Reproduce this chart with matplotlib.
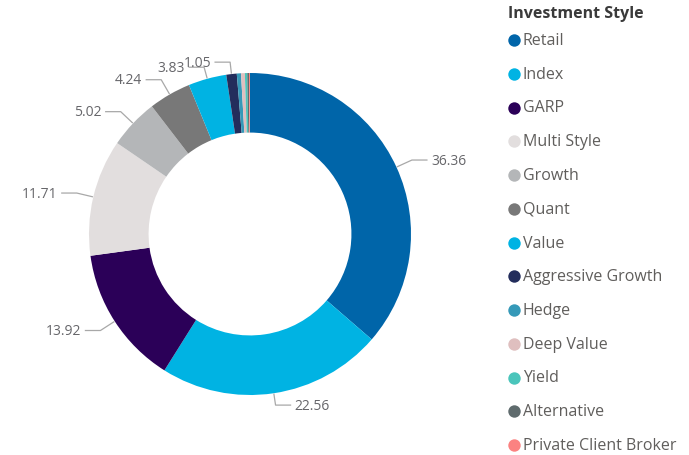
import matplotlib
matplotlib.use('Agg')
import matplotlib.pyplot as plt
import numpy as np

# Data
styles = ['Retail', 'Index', 'GARP', 'Multi Style', 'Growth', 'Quant', 'Value',
          'Aggressive Growth', 'Hedge', 'Deep Value', 'Yield', 'Alternative',
          'Private Client Broker']
shares = [36.36, 22.56, 13.92, 11.71, 5.02, 4.24, 3.83, 1.05, 0.42, 0.38, 0.24, 0.17, 0.10]
colors = ['#0065A9', '#00B3E3', '#2B0058', '#E2DEDE', '#B4B6B8', '#787878', '#00B3E3',
          '#232D5C', '#3599B8', '#DFBFBF', '#4AC5BB', '#5F6B6D', '#FB8281']
legendTitle = 'Investment Style'

W, H = 689, 456
fig = plt.figure(figsize=(W / 100, H / 100), dpi=100)
ax = fig.add_axes([0, 0, 1, 1])
ax.set_aspect('equal')

cx, cy = 250, H - 235
R = 161
plt.rcParams['font.family'] = ['Open Sans', 'DejaVu Sans']

wedges, _ = ax.pie(shares, colors=colors, startangle=90, counterclock=False,
                   radius=R, center=(cx, cy), frame=True,
                   wedgeprops=dict(width=R * 0.37, linewidth=0))
ax.set_xlim(0, W)
ax.set_ylim(0, H)
ax.axis('off')

# Data labels with leader lines
labelColor = '#66666A'
lineColor = '#A8A8A8'
for w, v in zip(wedges, shares):
    if v < 1:
        continue
    ang = np.deg2rad((w.theta1 + w.theta2) / 2)
    dx, dy = np.cos(ang), np.sin(ang)
    p1 = (cx + (R + 1) * dx, cy + (R + 1) * dy)
    rE = R + 17 if abs(dy) < 0.95 else R + 12
    p2 = (cx + rE * dx, cy + rE * dy)
    side = 1 if dx >= 0 else -1
    p3 = (p2[0] + side * 15, p2[1])
    ax.plot([p1[0], p2[0], p3[0]], [p1[1], p2[1], p3[1]], color=lineColor, lw=0.9)
    ax.text(p3[0] + side * 4, p3[1], f'{v:.2f}', ha='left' if side > 0 else 'right',
            va='center', fontsize=10, color=labelColor)

# Legend
ax.text(508, H - 14, legendTitle, fontsize=11.5, fontweight='bold', color='#3A3A3A',
        va='center', ha='left')
for i, (s, c) in enumerate(zip(styles, colors)):
    y = H - (41 + i * 33.75)
    ax.scatter([514], [y], s=80, color=c, zorder=3, linewidths=0)
    ax.text(523, y, s, fontsize=11.5, color='#605E5C', va='center', ha='left')

fig.savefig('out.png', dpi=100)
